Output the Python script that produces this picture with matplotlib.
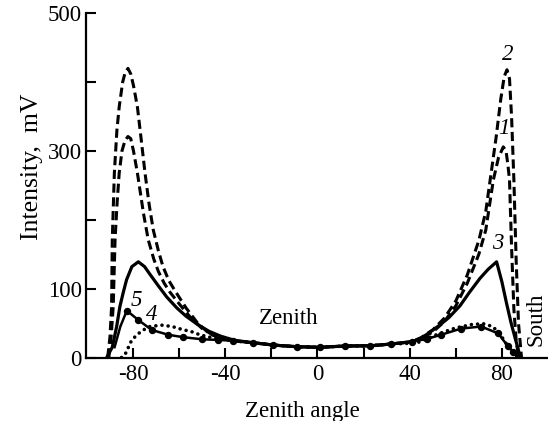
import matplotlib
matplotlib.use('Agg')
import matplotlib.pyplot as plt

plt.rcParams['font.family'] = ['Liberation Serif', 'DejaVu Serif']

# curve 1 (dashed, inner)
x1 = [-90.5, -89.5, -88.6, -87.8, -86.9, -86, -84.8, -83.5, -82.2, -81, -79.8, -78.1, -75.5, -73.4,
      -71, -69, -66.5, -64, -60, -55, -50, -45, -40, -36, -28, -19, -9, 1, 12, 23, 32, 41,
      45, 50, 55, 60, 65, 70, 73, 76.3, 78.5, 80.6, 81.8, 82.6, 83.3, 84.2, 85.2, 86.3, 87.5]
y1 = [0, 30, 74, 171, 225, 268, 300, 315, 321, 318, 300, 268, 210, 171,
      143, 125, 108, 95, 78, 58, 42, 32, 27, 24, 21.5, 18, 15.7, 14.8, 16.7, 17, 19.6, 23,
      28, 37, 52, 75, 108, 150, 185, 258, 290, 306, 300, 280, 258, 160, 70, 20, 0]

# curve 2 (dashed, outer)
x2 = [-91, -90, -89.3, -89, -88.1, -87, -86, -84.5, -83.5, -82.2, -81, -79.8, -78.1, -76.5, -74.8,
      -73, -71.2, -69, -67, -64.5, -62, -57, -52, -47, -42, -36, -28, -19, -9, 1, 12, 23, 32, 41,
      45, 50, 55, 60, 65, 70, 73, 75, 77.5, 79.5, 81, 82.2, 83.3, 84.2, 85.2, 86.2, 87.2, 88.5]
y2 = [0, 30, 74, 171, 268, 330, 364, 400, 413, 420, 412, 395, 364, 318, 268,
      222, 185, 155, 132, 112, 98, 72, 50, 35, 28, 24, 21.5, 18, 15.7, 14.8, 16.7, 17, 19.6, 23,
      29, 40, 57, 82, 120, 170, 212, 260, 320, 375, 408, 418, 405, 350, 258, 140, 50, 0]

# curve 3 (solid)
x3 = [-91.4, -89, -87.1, -85.7, -84.2, -82.8, -80.5, -77.7, -75, -72.9, -69, -65.4, -61, -57, -52,
      -47, -42, -36, -28, -19, -9, 1, 12, 23, 32, 41,
      45, 48, 53, 57, 61.8, 66, 70.5, 74, 77.7, 80, 82, 84, 86, 87, 88]
y3 = [0, 15, 45, 74, 95, 113, 132, 139, 132, 122, 104, 88, 72, 60, 48,
      38, 31, 25, 21.5, 18, 15.7, 14.8, 16.7, 17, 19.6, 23,
      28, 35, 47, 58, 75, 95, 115, 128, 139, 110, 79, 50, 25, 13, 0]

# curve 4 (dotted)
x4 = [-85, -83.5, -80.6, -78, -75, -72.7, -67.6, -63, -59, -54.6, -51, -46, -40, -36, -28, -19,
      -9, 1, 12, 23, 32, 43, 48, 53, 60, 67, 72, 76, 79, 81.5, 83.5, 85.5, 87.5]
y4 = [0, 4, 25, 34, 41, 45, 47, 45, 41, 37.5, 33, 29, 26, 24, 21.5, 18,
      15.7, 14.8, 16.7, 17, 19.6, 21, 28, 35, 43, 48, 49, 45, 35, 22, 12, 5, 0]

# curve 5 (solid with points)
x5 = [-88, -85.5, -82.7, -77.7, -71.9, -64.7, -58.2, -50.2, -43, -36.5, -27.8, -19.2, -8.9, 1,
      12, 23, 32, 41, 47.5, 53.6, 62.3, 71, 78.4, 82.7, 85, 87, 88.5]
y5 = [15, 45, 68, 54.5, 40, 33, 29.5, 26.5, 25.5, 24.4, 21.5, 18, 15.7, 14.8,
      16.7, 17, 19.6, 23, 27, 33, 42, 45, 35, 16, 8, 3, 0]

xticks = [-80, -60, -40, -20, 0, 20, 40, 60, 80]
xticklabels = ['-80', '', '-40', '', '0', '', '40', '', '80']
yticks = [0, 100, 200, 300, 400, 500]
yticklabels = ['0', '100', '', '300', '', '500']

fig = plt.figure(figsize=(5.48, 4.21), dpi=100)
ax = fig.add_axes([86 / 548, 63.5 / 421, 462 / 548, 344.2 / 421])

ax.plot(x2, y2, color='black', lw=2.2, linestyle=(0, (3, 1.5)))
ax.plot(x1, y1, color='black', lw=2.2, linestyle=(0, (3, 1.5)))
ax.plot(x3, y3, color='black', lw=2.3)
ax.plot(x4, y4, color='black', lw=2.6, linestyle=(0, (0.01, 1.7)), dash_capstyle='round')
ax.plot(x5, y5, color='black', lw=1.8, marker='o', ms=4.3, markevery=list(range(2, len(x5) - 1)))

ax.set_xlim(-100.4, 100)
ax.set_ylim(0, 500)
ax.spines[['top', 'right']].set_visible(False)
ax.spines[['left', 'bottom']].set_linewidth(1.6)
ax.set_xticks(xticks)
ax.set_xticklabels(xticklabels)
ax.set_yticks(yticks)
ax.set_yticklabels(yticklabels)
ax.tick_params(direction='in', length=7, width=1.5, labelsize=16.5)
ax.tick_params(axis='x', pad=5)
ax.tick_params(axis='y', pad=3)

ax.set_ylabel('Intensity,  mV', fontsize=18.5)
ax.yaxis.set_label_coords((43 - 86) / 462, (357.5 - 167) / 344.2)
ax.set_xlabel('Zenith angle', fontsize=16.5)
ax.xaxis.set_label_coords((302 - 86) / 462, (357.5 - 401) / 344.2)

# curve numbers
ax.text(82.4, 440, '2', fontsize=16.5, style='italic', ha='center', va='center')
ax.text(80.9, 333, '1', fontsize=16.5, style='italic', ha='center', va='center')
ax.text(78.1, 166, '3', fontsize=16.5, style='italic', ha='center', va='center')
ax.text(-78.5, 83, '5', fontsize=16.5, style='italic', ha='center', va='center')
ax.text(-71.8, 62.5, '4', fontsize=16.5, style='italic', ha='center', va='center')

ax.text(-12.6, 56, 'Zenith', fontsize=16.5, ha='center', va='center')
ax.text(94.8, 55, 'South', fontsize=16.5, rotation=90, ha='center', va='center')

fig.savefig('out.png', dpi=100)
